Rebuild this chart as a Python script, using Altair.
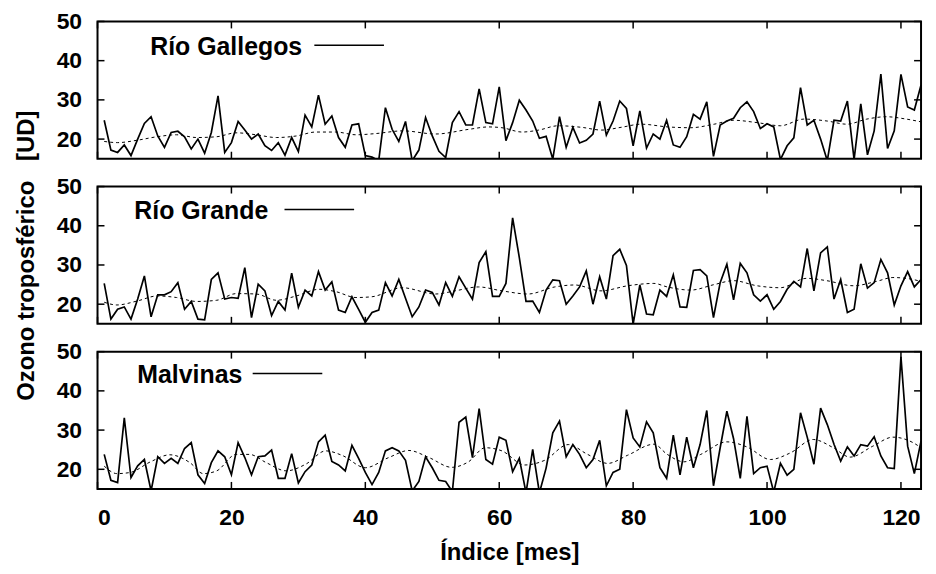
import altair as alt
import pandas as pd

# ---------------- data ----------------
months = list(range(1, 124))

gallegos = [24.8, 17.2, 16.6, 18.5, 15.8, 20.0, 24.0, 25.7, 20.8, 17.9,
            21.7, 22.0, 20.6, 17.5, 20.0, 16.4, 21.7, 31.0, 16.6, 19.1,
            24.5, 22.3, 20.0, 21.3, 18.3, 17.1, 19.1, 15.9, 20.4, 16.8,
            26.1, 23.1, 31.2, 23.8, 25.9, 20.4, 17.9, 23.6, 23.9, 15.8,
            15.4, 14.5, 28.0, 22.5, 19.4, 24.5, 14.5, 17.2, 25.5, 20.8,
            16.9, 15.3, 24.2, 27.0, 23.6, 23.6, 32.8, 24.2, 23.9, 33.3,
            19.6, 24.2, 29.9, 27.4, 24.6, 20.2, 20.7, 14.9, 25.7, 17.9,
            23.0, 19.0, 19.7, 21.3, 29.7, 21.0, 24.6, 29.7, 27.8, 18.3,
            27.2, 17.7, 21.3, 20.0, 24.8, 18.5, 17.9, 20.6, 26.3, 25.1,
            29.5, 15.6, 23.6, 24.6, 25.3, 28.0, 29.5, 27.0, 22.7, 23.9,
            23.1, 14.8, 18.3, 20.3, 33.1, 23.6, 24.8, 20.0, 14.5, 24.8,
            24.6, 29.7, 14.8, 29.0, 16.0, 22.1, 36.6, 17.6, 22.1, 36.5,
            28.2, 27.4, 33.8]

grande = [25.3, 16.2, 18.7, 19.3, 16.2, 21.3, 27.2, 16.8, 22.4, 22.4,
          23.2, 25.5, 18.7, 20.7, 16.2, 16.0, 26.3, 28.0, 21.3, 21.7,
          21.5, 29.3, 16.6, 25.1, 23.4, 17.1, 20.7, 18.5, 27.9, 19.2,
          23.6, 22.1, 28.3, 23.6, 25.7, 18.5, 17.9, 21.9, 18.7, 15.4,
          17.9, 18.5, 25.5, 22.1, 26.3, 21.5, 16.8, 19.3, 23.6, 23.0,
          19.8, 25.5, 22.0, 27.0, 24.1, 21.3, 30.6, 33.4, 22.0, 22.0,
          25.3, 42.0, 31.9, 20.7, 20.8, 17.9, 23.6, 26.2, 26.0, 20.0,
          22.1, 24.4, 28.5, 20.0, 27.0, 21.3, 32.4, 34.0, 29.9, 14.9,
          24.9, 17.5, 17.3, 23.6, 22.0, 27.5, 19.3, 19.2, 28.6, 28.8,
          27.2, 16.6, 25.5, 30.2, 21.1, 30.4, 28.0, 22.4, 20.8, 22.4,
          18.7, 20.7, 23.8, 25.8, 24.4, 34.2, 23.4, 33.1, 34.6, 21.3,
          26.3, 17.9, 18.7, 30.3, 24.1, 25.5, 31.4, 28.0, 19.8, 24.7,
          28.3, 24.4, 26.3]

malvinas = [23.8, 17.2, 16.6, 33.1, 17.9, 20.9, 22.5, 14.5, 23.2, 21.5,
            22.8, 21.5, 25.3, 26.8, 18.6, 16.4, 21.7, 24.7, 23.2, 18.6,
            26.8, 23.0, 18.6, 23.2, 23.4, 24.9, 17.7, 17.7, 24.0, 16.5,
            19.4, 21.1, 27.0, 28.7, 22.0, 21.1, 19.6, 26.1, 22.8, 19.2,
            16.1, 19.2, 24.7, 25.5, 24.7, 22.3, 14.5, 16.9, 23.2, 20.4,
            17.2, 16.9, 14.3, 32.0, 33.3, 23.0, 35.5, 22.5, 21.3, 28.2,
            27.4, 19.4, 22.8, 14.0, 25.1, 14.0, 20.3, 29.3, 32.3, 23.2,
            26.3, 23.8, 20.4, 22.5, 27.4, 15.8, 19.2, 20.0, 35.2, 28.0,
            25.7, 32.1, 29.3, 20.4, 17.7, 28.7, 18.6, 28.2, 20.4, 26.3,
            35.0, 15.8, 25.5, 34.8, 27.8, 17.7, 33.5, 18.9, 20.4, 20.8,
            14.2, 21.5, 18.5, 20.0, 34.4, 28.2, 21.3, 35.6, 31.4, 26.4,
            22.1, 25.7, 23.4, 26.3, 25.9, 28.3, 23.4, 20.4, 20.2, 48.7,
            25.9, 18.9, 27.2]

# smooth (dashed) fits, read at sample positions
fit_gallegos_x = [1, 3, 5.9, 8.9, 11.8, 14.8, 17.8, 20.7, 23.7, 26.7, 29.7, 32.6,
                  35.6, 38.6, 41.5, 45.6, 50.5, 55.5, 58.4, 60.4, 63.4, 65.9, 68.8,
                  72.3, 75.3, 78.2, 81.2, 85.2, 88.6, 92.1, 95, 98.5, 102, 105.5,
                  109, 111.9, 114.9, 117.8, 120.8, 123]
fit_gallegos_y = [19.4, 19.1, 19.7, 20.6, 21.1, 20.4, 20.6, 21.6, 21.1, 20.4, 20.8, 21.8,
                  21.8, 21.1, 21.4, 22.1, 21.3, 22.5, 23.1, 22.9, 21.8, 22.3, 23.4,
                  23.0, 22.3, 23.0, 23.8, 23.1, 22.9, 23.8, 24.8, 24.2, 23.4, 25.1,
                  24.6, 23.8, 25.1, 25.7, 25.1, 24.4]

fit_grande_x = [1, 2.9, 5.9, 8.9, 11.8, 14.8, 17.8, 20.7, 23.7, 26.7, 29.7, 33.1,
                35.6, 38.6, 41, 45.5, 50.5, 53.4, 56.9, 60.4, 64.3, 68.3, 71.3,
                75.2, 79.2, 83.1, 85.1, 88.6, 92.1, 95, 98.5, 102, 105.9, 108.9,
                112.9, 116.3, 118.8, 121.8, 123]
fit_grande_y = [20.5, 19.8, 20.8, 22.1, 21.7, 20.7, 21.0, 22.7, 22.6, 21.0, 22.1, 23.8,
                23.2, 21.7, 21.9, 24.2, 22.6, 23.4, 24.4, 23.4, 22.6, 24.4, 24.9,
                23.4, 24.7, 25.3, 24.4, 23.6, 25.0, 26.0, 24.7, 24.2, 26.6, 26.0,
                24.7, 25.8, 26.8, 26.3, 25.8]

fit_malvinas_x = [1, 2.9, 4.9, 7.9, 10.8, 13.8, 15.8, 17.8, 20.7, 22.7, 25.2, 28.2,
                  31.1, 34.1, 36.6, 40, 43.5, 46.5, 49.5, 52.9, 55.4, 57.9, 60.4,
                  63.8, 66.8, 70.3, 73.2, 76.2, 79.2, 83.1, 85.1, 87.6, 90.1, 94,
                  97, 100.5, 103.5, 106.9, 109.9, 112.4, 115.8, 118.8, 121.8, 123]
fit_malvinas_y = [20.8, 18.9, 19.2, 21.9, 23.7, 21.7, 18.9, 19.6, 23.8, 23.8, 21.7, 19.6,
                  21.3, 24.7, 23.5, 20.4, 23.0, 24.8, 23.0, 20.5, 21.9, 25.5, 24.7,
                  21.1, 22.3, 26.3, 23.8, 21.5, 23.6, 26.4, 23.8, 21.9, 23.8, 27.0,
                  25.7, 22.5, 24.2, 27.6, 25.5, 23.1, 25.9, 28.2, 26.8, 25.5]

x_ticks = [0, 20, 40, 60, 80, 100, 120]
y_ticks = [20, 30, 40, 50]
x_domain = [0, 123]
y_domain = [15, 50]

station_names = ["Río Gallegos", "Río Grande", "Malvinas"]
y_title = "Ozono troposférico\u00a0\u00a0 [UD]"
x_title = "Índice [mes]"

# ---------------- layout / style ----------------
W, H = 828, 138
FONT = "Liberation Sans"
TICK = 7

# legend placement per panel (pixels inside the plot area)
legend_pos = [
    dict(tx=53, ty=26, lx1=218, lx2=288, ly=24),
    dict(tx=37, ty=25, lx1=188, lx2=258, ly=23),
    dict(tx=40, ty=24, lx1=156, lx2=226, ly=22),
]


def panel(i, vals, fx, fy):
    xs = alt.Scale(domain=x_domain, nice=False, zero=False)
    ys = alt.Scale(domain=y_domain, nice=False, zero=False)
    bottom = i == 2
    if bottom:
        x_axis = alt.Axis(values=x_ticks, ticks=False, tickSize=0, grid=False,
                          domain=False, title=x_title, labelPadding=18,
                          titlePadding=11, labelBaseline="top")
    else:
        x_axis = None
    y_axis = alt.Axis(values=y_ticks, ticks=False, tickSize=0, grid=False,
                      domain=False, title=(y_title if i == 1 else ""),
                      labelPadding=16, titlePadding=18)

    df = pd.DataFrame({"mes": months, "ozono": vals})
    fit = pd.DataFrame({"mes": fx, "ozono": fy})

    line = alt.Chart(df).mark_line(color="black", strokeWidth=1.7, clip=True).encode(
        x=alt.X("mes:Q", scale=xs, axis=x_axis),
        y=alt.Y("ozono:Q", scale=ys, axis=y_axis),
    )
    dashed = alt.Chart(fit).mark_line(color="black", strokeWidth=1, strokeDash=[3, 3],
                                      interpolate="monotone", clip=True).encode(
        x=alt.X("mes:Q", scale=xs),
        y=alt.Y("ozono:Q", scale=ys),
    )

    xt = pd.DataFrame({"t": x_ticks})
    yt = pd.DataFrame({"t": y_ticks})
    xtick_b = alt.Chart(xt).mark_rule(color="black", strokeWidth=1.5).encode(
        x=alt.X("t:Q", scale=xs), y=alt.value(H), y2=alt.value(H - TICK))
    xtick_t = alt.Chart(xt).mark_rule(color="black", strokeWidth=1.5).encode(
        x=alt.X("t:Q", scale=xs), y=alt.value(0), y2=alt.value(TICK))
    ytick_l = alt.Chart(yt).mark_rule(color="black", strokeWidth=1.5).encode(
        y=alt.Y("t:Q", scale=ys), x=alt.value(0), x2=alt.value(TICK))
    ytick_r = alt.Chart(yt).mark_rule(color="black", strokeWidth=1.5).encode(
        y=alt.Y("t:Q", scale=ys), x=alt.value(W - TICK), x2=alt.value(W))

    p = legend_pos[i]
    lab = pd.DataFrame({"name": [station_names[i]]})
    text = alt.Chart(lab).mark_text(align="left", baseline="middle", font=FONT,
                                    fontSize=25, fontWeight="bold", color="black").encode(
        text="name:N", x=alt.value(p["tx"]), y=alt.value(p["ty"]))
    key = alt.Chart(lab).mark_rule(color="black", strokeWidth=1.6).encode(
        x=alt.value(p["lx1"]), x2=alt.value(p["lx2"]), y=alt.value(p["ly"]))

    return alt.layer(line, dashed, xtick_b, xtick_t, ytick_l, ytick_r, text, key).properties(
        width=W, height=H)


chart = alt.vconcat(
    panel(0, gallegos, fit_gallegos_x, fit_gallegos_y),
    panel(1, grande, fit_grande_x, fit_grande_y),
    panel(2, malvinas, fit_malvinas_x, fit_malvinas_y),
    spacing=28,
).properties(
    bounds="flush",
    background="white",
    padding={"left": 5, "top": 0, "right": 5, "bottom": 0},
).configure_view(
    stroke="black", strokeWidth=2
).configure_axis(
    labelFont=FONT, labelFontSize=23, labelFontWeight="bold", labelColor="black",
    titleFont=FONT, titleFontSize=24, titleFontWeight="bold", titleColor="black",
)

chart.save("out.html", embed_options={"renderer": "svg", "actions": False})
